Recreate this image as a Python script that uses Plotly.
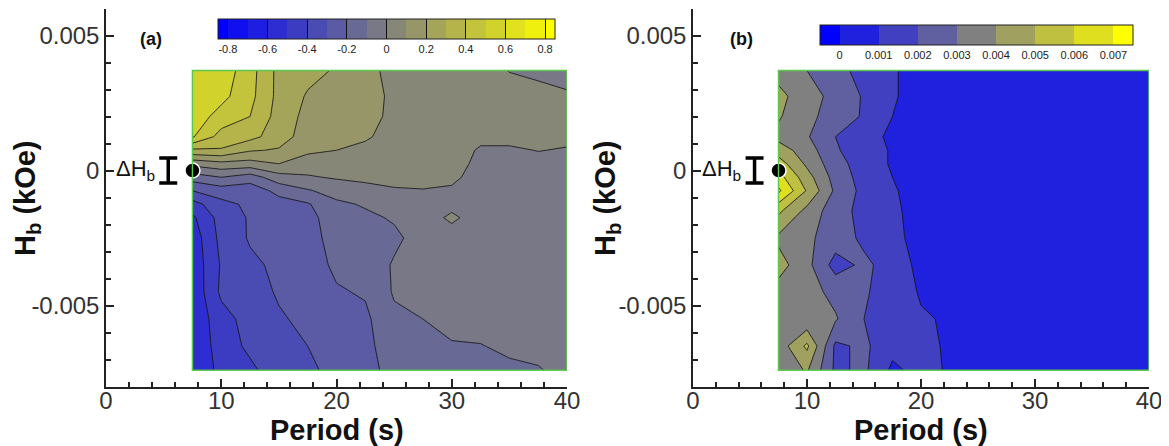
import plotly.graph_objects as go

# ---------------- data ----------------
period = [7.5, 10, 12.5, 15, 17.5, 20, 22.5, 25, 27.5, 30, 32.5, 35, 37.5, 40]
hb_a = [-0.0074, -0.0065, -0.0055, -0.0045, -0.0035, -0.0025, -0.00175, -0.00125,
        -0.00075, -0.00025, 0.00025, 0.00075, 0.00125, 0.002, 0.00275, 0.0037]
hb_b = [-0.0074, -0.0065, -0.0055, -0.0045, -0.0035, -0.0025, -0.0015,
        -0.00075, -0.00025, 0.00025, 0.00075, 0.00125, 0.002, 0.00275, 0.0037]

# panel (a) values, rows follow hb_a (bottom -> top), columns follow period
za = [
    [-0.59, -0.47, -0.42, -0.35, -0.32, -0.27, -0.24, -0.16, -0.14, -0.12, -0.12, -0.11, -0.105, -0.08],
    [-0.59, -0.45, -0.38, -0.33, -0.30, -0.25, -0.23, -0.14, -0.12, -0.105, -0.102, -0.09, -0.08, -0.065],
    [-0.58, -0.44, -0.36, -0.31, -0.28, -0.23, -0.22, -0.12, -0.10, -0.08, -0.08, -0.07, -0.06, -0.055],
    [-0.58, -0.38, -0.34, -0.29, -0.26, -0.21, -0.19, -0.09, -0.08, -0.07, -0.07, -0.065, -0.055, -0.05],
    [-0.57, -0.39, -0.32, -0.28, -0.25, -0.18, -0.16, -0.09, -0.07, -0.06, -0.06, -0.06, -0.05, -0.045],
    [-0.56, -0.37, -0.29, -0.27, -0.24, -0.16, -0.14, -0.12, -0.06, -0.05, -0.05, -0.05, -0.045, -0.04],
    [-0.52, -0.36, -0.29, -0.26, -0.23, -0.15, -0.12, -0.09, -0.05, 0.02, -0.05, -0.05, -0.04, -0.035],
    [-0.44, -0.33, -0.28, -0.24, -0.21, -0.12, -0.09, -0.05, -0.03, -0.03, -0.05, -0.04, -0.04, -0.035],
    [-0.30, -0.25, -0.26, -0.17, -0.11, -0.06, -0.03, -0.01, -0.003, -0.01, -0.04, -0.04, -0.035, -0.03],
    [-0.15, -0.10, -0.15, -0.04, -0.01, 0.01, 0.02, 0.03, 0.02, 0.015, -0.03, -0.03, -0.03, -0.025],
    [0.03, 0.07, 0.06, 0.10, 0.05, 0.05, 0.05, 0.04, 0.04, 0.03, -0.02, -0.02, -0.02, -0.02],
    [0.28, 0.29, 0.21, 0.19, 0.12, 0.10, 0.08, 0.06, 0.05, 0.04, -0.01, -0.01, 0.002, -0.005],
    [0.51, 0.36, 0.33, 0.25, 0.15, 0.13, 0.11, 0.07, 0.06, 0.05, 0.02, 0.02, 0.02, 0.015],
    [0.56, 0.46, 0.40, 0.26, 0.17, 0.15, 0.13, 0.08, 0.07, 0.06, 0.05, 0.05, 0.04, 0.03],
    [0.57, 0.53, 0.43, 0.27, 0.19, 0.16, 0.14, 0.08, 0.07, 0.06, 0.05, 0.04, 0.03, 0.01],
    [0.58, 0.56, 0.44, 0.27, 0.23, 0.19, 0.13, 0.07, 0.07, 0.06, 0.04, -0.003, -0.02, -0.03],
]

# panel (b) values, rows follow hb_b
zb = [
    [0.0033, 0.0041, 0.0018, 0.0022, 0.0008, 0.0013, 0.0009, 0.0005, 0.0004, 0.0004, 0.0004, 0.0004, 0.0004, 0.0004],
    [0.0034, 0.0052, 0.0018, 0.0022, 0.0013, 0.0012, 0.0009, 0.0005, 0.0004, 0.0004, 0.0004, 0.0004, 0.0004, 0.0004],
    [0.0035, 0.0032, 0.0031, 0.0020, 0.0016, 0.0011, 0.0009, 0.0005, 0.0004, 0.0004, 0.0004, 0.0004, 0.0004, 0.0004],
    [0.0036, 0.0034, 0.0027, 0.0021, 0.0016, 0.0009, 0.0006, 0.0004, 0.0004, 0.0004, 0.0004, 0.0004, 0.0004, 0.0004],
    [0.0044, 0.0033, 0.0016, 0.0022, 0.0016, 0.0007, 0.0005, 0.0004, 0.0004, 0.0004, 0.0004, 0.0004, 0.0004, 0.0004],
    [0.0038, 0.0032, 0.0025, 0.0018, 0.0013, 0.0006, 0.0005, 0.0004, 0.0004, 0.0004, 0.0004, 0.0004, 0.0004, 0.0004],
    [0.0052, 0.0037, 0.0024, 0.0017, 0.0012, 0.0006, 0.0005, 0.0004, 0.0004, 0.0004, 0.0004, 0.0004, 0.0004, 0.0004],
    [0.0072, 0.0049, 0.0028, 0.0017, 0.0011, 0.0006, 0.0005, 0.0004, 0.0004, 0.0004, 0.0004, 0.0004, 0.0004, 0.0004],
    [0.0064, 0.0044, 0.0026, 0.0016, 0.0010, 0.0005, 0.0005, 0.0004, 0.0004, 0.0004, 0.0004, 0.0004, 0.0004, 0.0004],
    [0.0055, 0.0038, 0.0024, 0.0015, 0.0009, 0.0005, 0.0005, 0.0004, 0.0004, 0.0004, 0.0004, 0.0004, 0.0004, 0.0004],
    [0.0045, 0.0035, 0.0021, 0.0015, 0.0009, 0.0005, 0.0005, 0.0004, 0.0004, 0.0004, 0.0004, 0.0004, 0.0004, 0.0004],
    [0.0037, 0.0031, 0.0020, 0.0014, 0.0008, 0.0005, 0.0005, 0.0004, 0.0004, 0.0004, 0.0004, 0.0004, 0.0004, 0.0004],
    [0.0041, 0.0033, 0.0025, 0.0019, 0.0010, 0.0005, 0.0005, 0.0004, 0.0004, 0.0004, 0.0004, 0.0004, 0.0004, 0.0004],
    [0.0043, 0.0034, 0.0027, 0.0019, 0.0011, 0.0006, 0.0005, 0.0004, 0.0004, 0.0004, 0.0004, 0.0004, 0.0004, 0.0004],
    [0.0036, 0.0030, 0.0023, 0.0017, 0.0011, 0.0006, 0.0005, 0.0004, 0.0004, 0.0004, 0.0004, 0.0004, 0.0004, 0.0004],
]

# contour levels
levels_a = [-0.8, -0.7, -0.6, -0.5, -0.4, -0.3, -0.2, -0.1, 0.0,
            0.1, 0.2, 0.3, 0.4, 0.5, 0.6, 0.7, 0.8]
levels_b = [0.0, 0.001, 0.002, 0.003, 0.004, 0.005, 0.006, 0.007]
# colour-bar labels
cb_a_vals = [-0.8, -0.6, -0.4, -0.2, 0.0, 0.2, 0.4, 0.6, 0.8]
cb_a_text = ["-0.8", "-0.6", "-0.4", "-0.2", "0", "0.2", "0.4", "0.6", "0.8"]
cb_b_vals = [0.0, 0.001, 0.002, 0.003, 0.004, 0.005, 0.006, 0.007]
cb_b_text = ["0", "0.001", "0.002", "0.003", "0.004", "0.005", "0.006", "0.007"]

x_ticks = [0, 10, 20, 30, 40]
y_ticks = [-0.005, 0.0, 0.005]
y_ticks_text = ["-0.005", "0", "0.005"]

marker_hb = 0.0           # the black dot and ΔHb bracket sit at Hb = 0
delta_hb_half = 0.00046   # half height of the ΔHb bracket
delta_hb_x = 5.4          # period position of the bracket

# ---------------- styles ----------------
W, H = 1169, 446
OFF = 8                   # the page body margin shifts the figure by this much
FONT = "Liberation Sans"
BLUE, GRAY, YELLOW = (0, 0, 255), (128, 128, 128), (255, 255, 0)


def cmap(t):
    t = max(0.0, min(1.0, t))
    if t <= 0.5:
        f = t / 0.5
        c = [BLUE[i] + (GRAY[i] - BLUE[i]) * f for i in range(3)]
    else:
        f = (t - 0.5) / 0.5
        c = [GRAY[i] + (YELLOW[i] - GRAY[i]) * f for i in range(3)]
    return "rgb(%d,%d,%d)" % tuple(round(v) for v in c)


contour_scale = [[0, cmap(0)], [0.5, cmap(0.5)], [1, cmap(1)]]


def band_scale(levels, lo, hi):
    """discrete colour scale for a colour bar showing the filled bands"""
    edges = [lo] + list(levels) + [hi]
    nb = len(levels) + 1
    scale = []
    for i in range(nb):
        col = cmap(i / (nb - 1))
        a = (edges[i] - lo) / (hi - lo)
        b = (edges[i + 1] - lo) / (hi - lo)
        scale.append([a, col])
        scale.append([b, col])
    return scale


def px_x(p):
    return (p - OFF) / W


def px_y(p):
    return 1 - (p - OFF) / H


dom_a = [px_x(106), px_x(567)]
dom_b = [px_x(693), px_x(1149)]
dom_y = [px_y(386.5), px_y(8.5)]

fig = go.Figure()

for hb, z, levels, xa, ya in [(hb_a, za, levels_a, "x", "y"), (hb_b, zb, levels_b, "x2", "y2")]:
    fig.add_trace(go.Contour(
        x=period, y=hb, z=z, xaxis=xa, yaxis=ya,
        colorscale=contour_scale, showscale=False,
        contours=dict(start=levels[0], end=levels[-1],
                      size=round(levels[1] - levels[0], 6),
                      coloring="fill", showlines=True),
        line=dict(color="rgba(20,20,20,0.85)", width=1, smoothing=0),
        hoverinfo="skip",
    ))

# colour bars (drawn from dummy marker traces placed outside the visible range)
half_a = (levels_a[1] - levels_a[0]) / 2
half_b = (levels_b[1] - levels_b[0]) / 2
cb_specs = [
    ("x", "y", levels_a, cb_a_vals, cb_a_text, levels_a[0] - half_a, levels_a[-1] + half_a,
     386.5, 19, 337, True),
    ("x2", "y2", levels_b, cb_b_vals, cb_b_text, levels_b[0] - half_b, levels_b[-1] + half_b,
     976.5, 25, 313, False),
]
for xa, ya, levels, vals, texts, lo, hi, cx, top, ln, lines in cb_specs:
    fig.add_trace(go.Scatter(
        x=[-100], y=[0], xaxis=xa, yaxis=ya, mode="markers", hoverinfo="skip",
        marker=dict(color=[levels[0]], cmin=lo, cmax=hi, colorscale=band_scale(levels, lo, hi),
                    showscale=True,
                    colorbar=dict(orientation="h", x=px_x(cx), xanchor="center",
                                  y=px_y(top), yanchor="top", len=ln, lenmode="pixels",
                                  thickness=20, xpad=0, ypad=0,
                                  outlinewidth=1, outlinecolor="#222",
                                  tickvals=vals, ticktext=texts,
                                  ticks="inside" if lines else "",
                                  ticklen=20, tickwidth=1, tickcolor="#111",
                                  tickfont=dict(family=FONT, size=11, color="#222"))),
        showlegend=False,
    ))

# black dot and ΔHb bracket
for xa, ya in [("x", "y"), ("x2", "y2")]:
    fig.add_trace(go.Scatter(
        x=[delta_hb_x], y=[marker_hb], xaxis=xa, yaxis=ya, mode="markers",
        marker=dict(size=1, color="rgba(0,0,0,0)"),
        error_y=dict(type="data", array=[delta_hb_half], symmetric=True,
                     color="black", thickness=3.5, width=9),
        cliponaxis=False, showlegend=False, hoverinfo="skip"))
    fig.add_trace(go.Scatter(
        x=[period[0]], y=[marker_hb], xaxis=xa, yaxis=ya, mode="markers",
        marker=dict(size=15, color="black", line=dict(color="white", width=1.5)),
        cliponaxis=False, showlegend=False, hoverinfo="skip"))

axis_common = dict(
    showgrid=False, zeroline=False, showline=True, linecolor="#222", linewidth=1.5,
    ticks="inside", ticklen=8, tickwidth=1.5, tickcolor="#222",
    tickfont=dict(family=FONT, size=24, color="#333"),
)
xaxis_cfg = dict(axis_common, range=[0, 40], tickvals=x_ticks, ticklabelstandoff=-8,
                 minor=dict(dtick=2, tick0=0, ticks="inside", ticklen=5, tickcolor="#222"))
yaxis_cfg = dict(axis_common, range=[-0.008, 0.006], tickvals=y_ticks, ticktext=y_ticks_text,
                 minor=dict(dtick=0.001, tick0=0, ticks="inside", ticklen=5, tickcolor="#222"))

fig.update_layout(
    width=W, height=H,
    margin=dict(l=0, r=0, t=0, b=0, autoexpand=False),
    paper_bgcolor="white", plot_bgcolor="white",
    showlegend=False,
    xaxis=dict(xaxis_cfg, domain=dom_a, anchor="y"),
    yaxis=dict(yaxis_cfg, domain=dom_y, anchor="x"),
    xaxis2=dict(xaxis_cfg, domain=dom_b, anchor="y2"),
    yaxis2=dict(yaxis_cfg, domain=dom_y, anchor="x2"),
)

# green frame around the data region
for xr, yr, hb in [("x", "y", hb_a), ("x2", "y2", hb_b)]:
    fig.add_shape(type="rect", xref=xr, yref=yr,
                  x0=min(period), x1=max(period), y0=min(hb), y1=max(hb),
                  line=dict(color="#5cc84e", width=1.5), fillcolor="rgba(0,0,0,0)")

ann = []
for label, cx, tx in [("(a)", 151, 27), ("(b)", 741, 607)]:
    ann.append(dict(text="<b>%s</b>" % label, x=px_x(cx), y=px_y(39), xref="paper", yref="paper",
                    xanchor="center", yanchor="middle",
                    showarrow=False, font=dict(family=FONT, size=18, color="#111")))
    ann.append(dict(text="<b>H<sub>b</sub> (kOe)</b>", x=px_x(tx), y=px_y(198), xref="paper",
                    yref="paper", textangle=-90, showarrow=False,
                    xanchor="center", yanchor="middle",
                    font=dict(family=FONT, size=29, color="#111")))
for dom in (dom_a, dom_b):
    ann.append(dict(text="<b>Period (s)</b>", x=(dom[0] + dom[1]) / 2, y=px_y(430),
                    xref="paper", yref="paper", showarrow=False,
                    xanchor="center", yanchor="middle",
                    font=dict(family=FONT, size=29, color="#111")))
for xr, yr in [("x", "y"), ("x2", "y2")]:
    ann.append(dict(text="ΔH<sub>b</sub>", x=4.4, y=marker_hb, xref=xr, yref=yr,
                    xanchor="right", yanchor="middle", showarrow=False,
                    font=dict(family=FONT, size=22, color="#111")))
fig.update_layout(annotations=ann)

fig.write_html("out.html")
